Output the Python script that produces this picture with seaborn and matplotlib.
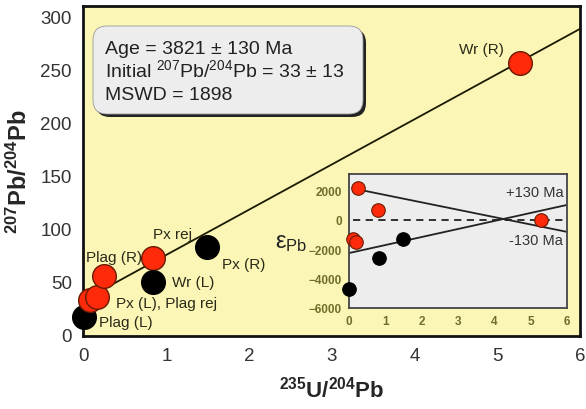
import numpy as np
import pandas as pd
import matplotlib
matplotlib.use('Agg')
import matplotlib.pyplot as plt
from matplotlib.patches import FancyBboxPatch
from matplotlib.transforms import IdentityTransform
import seaborn as sns

# main isochron data (235U/204Pb vs 207Pb/204Pb)
main_x = [0.0, 0.07, 0.16, 0.24, 0.83, 0.83, 1.49, 5.28]
main_y = [17, 33, 36, 55, 72, 50, 83, 256]
main_group = ['black', 'red', 'red', 'red', 'red', 'black', 'black', 'red']

# fitted isochron, intercept 33
iso_x = [0, 6]
iso_y = [33, 288]

# point labels
lab_text = ['Wr (R)', 'Px rej', 'Plag (R)', 'Px (L), Plag rej', 'Plag (L)', 'Wr (L)', 'Px (R)']
lab_x = [5.08, 0.83, 0.02, 0.39, 0.18, 1.07, 1.67]
lab_y = [269, 95, 73, 30, 12, 50, 67]
lab_ha = ['right', 'left', 'left', 'left', 'left', 'left', 'left']

# result box lines
box_lines = ['Age = 3821 ± 130 Ma', 'Initial $^{207}$Pb/$^{204}$Pb = 33 ± 13', 'MSWD = 1898']

# inset: epsilon Pb
eps_x = [0.25, 0.8, 0.1, 0.19, 5.29, 0.0, 0.83, 1.49]
eps_y = [2130, 670, -1330, -1530, 0, -4730, -2600, -1330]
eps_group = ['red', 'red', 'red', 'red', 'red', 'black', 'black', 'black']
plus_x = [0.25, 6]
plus_y = [2050, -830]
minus_x = [0, 6]
minus_y = [-2270, 1000]
zero_x = [0.1, 6]
zero_y = [0, 0]

sns.set_theme(style='white')
plt.rcParams['font.family'] = ['Liberation Sans', 'DejaVu Sans']
plt.rcParams['mathtext.fontset'] = 'custom'
plt.rcParams['mathtext.rm'] = 'Liberation Sans'
plt.rcParams['mathtext.bf'] = 'Liberation Sans:bold'
plt.rcParams['mathtext.it'] = 'Liberation Sans:italic'

pal = {'red': '#FF2A0A', 'black': '#000000'}
edge = {'red': '#6a1a00', 'black': '#000000'}

fig = plt.figure(figsize=(5.86, 4.10), dpi=100)
ax = fig.add_axes([83/586, 1-337/410, (580-83)/586, (337-7)/410])
ax.set_facecolor('#FBF6B6')

sns.lineplot(x=iso_x, y=iso_y, ax=ax, color='#1a1a00', lw=1.3, zorder=2)

df = pd.DataFrame({'x': main_x, 'y': main_y, 'g': main_group})
for i, r in df.iterrows():
    ax.scatter(r.x, r.y, s=290, color=pal[r.g], edgecolor=edge[r.g], lw=1.0, zorder=3, clip_on=False)

for t, x, y, ha in zip(lab_text, lab_x, lab_y, lab_ha):
    ax.text(x, y, t, ha=ha, va='center', fontsize=11, color='#2a2a1a', zorder=4)

ax.set_xlim(-0.012, 6.0)
ax.set_ylim(-1, 309.5)
ax.set_xticks(range(0, 7))
ax.set_yticks(range(0, 301, 50))
ax.tick_params(length=0, labelsize=13.5, labelcolor='#333333')
ax.tick_params(axis='y', pad=8)
ax.tick_params(axis='x', pad=8)
for s in ax.spines.values():
    s.set_color('#111111')
    s.set_linewidth(2)
ax.set_xlabel(r'$\mathbf{^{235}U/^{204}Pb}$', fontsize=16, labelpad=8)
ax.set_ylabel(r'$\mathbf{^{207}Pb/^{204}Pb}$', fontsize=17, labelpad=6)

# rounded result box with a dark drop shadow (pixel coordinates)
H = 410
ax.add_patch(FancyBboxPatch((96, H - 118), 270, 88, boxstyle='round,pad=0,rounding_size=14',
                            transform=IdentityTransform(), fc='#222222', ec='none', zorder=4))
ax.add_patch(FancyBboxPatch((93, H - 115), 270, 88, boxstyle='round,pad=0,rounding_size=14',
                            transform=IdentityTransform(), fc='#EDEDED', ec='#999999', lw=0.6, zorder=4))
for k, line in enumerate(box_lines):
    ax.text(0.254, 265 - 21.5 * k, line, ha='left', va='baseline', fontsize=14, color='#222222', zorder=5)

# inset
ax_in = fig.add_axes([349/586, 1-309/410, (567-349)/586, (309-175)/410])
ax_in.set_facecolor('#EDEDED')
sns.lineplot(x=plus_x, y=plus_y, ax=ax_in, color='#222222', lw=1.3)
sns.lineplot(x=minus_x, y=minus_y, ax=ax_in, color='#222222', lw=1.3)
sns.lineplot(x=zero_x, y=zero_y, ax=ax_in, color='#222222', lw=1.3, linestyle=(0, (4, 3)))
dfi = pd.DataFrame({'x': eps_x, 'y': eps_y, 'g': eps_group})
for i, r in dfi.iterrows():
    ax_in.scatter(r.x, r.y, s=95, color=pal[r.g], edgecolor=edge[r.g], lw=0.8, zorder=3, clip_on=False)
ax_in.text(5.9, 1850, '+130 Ma', ha='right', va='center', fontsize=10.5, color='#333333')
ax_in.text(5.9, -1400, '-130 Ma', ha='right', va='center', fontsize=10.5, color='#333333')
ax_in.set_xlim(0, 6)
ax_in.set_ylim(-5800, 3100)
ax_in.set_xticks(range(0, 7))
ax_in.set_yticks(range(-6000, 2001, 2000))
ax_in.tick_params(length=0, labelsize=8.5, labelcolor='#6f6f2a', pad=5)
for lab in ax_in.get_xticklabels() + ax_in.get_yticklabels():
    lab.set_fontweight('bold')
for s in ax_in.spines.values():
    s.set_color('#444444')
    s.set_linewidth(1.3)
ax_in.text(-0.19, 0.49, 'ε$_{\\mathrm{Pb}}$', transform=ax_in.transAxes, ha='right', va='center',
           fontsize=17, color='#222222')

fig.savefig('out.png', dpi=100, facecolor='white')
